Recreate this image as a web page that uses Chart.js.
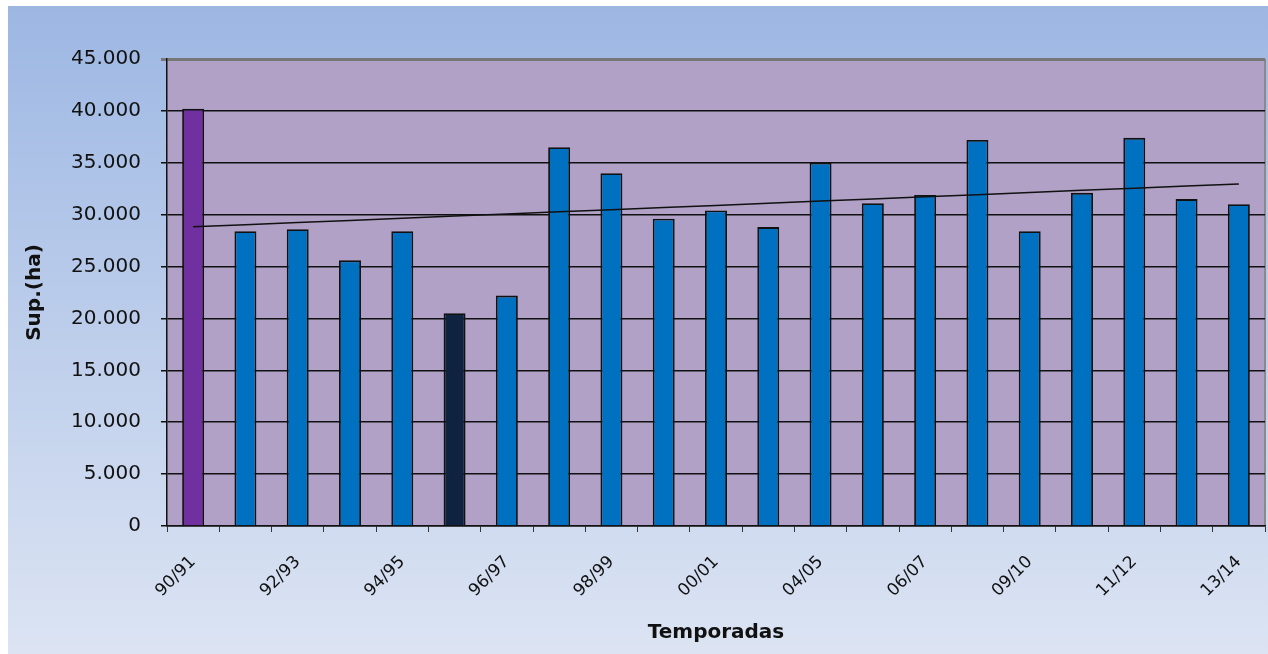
<!DOCTYPE html>
<html>
<head>
<meta charset="utf-8">
<script src="https://cdn.jsdelivr.net/npm/chart.js@4.4.0/dist/chart.umd.min.js"></script>
<style>
  html, body { margin: 0; padding: 0; background: #fff; }
  #wrap { width: 1268px; height: 654px; }
</style>
</head>
<body>
<div id="wrap"><canvas id="supChart" width="1268" height="654"></canvas></div>
<script>
// temporadas (las dos sin etiqueta visible son estimadas)
const seasons = ['90/91', '91/92', '92/93', '93/94', '94/95', '95/96', '96/97', '97/98', '98/99', '99/00',
  '00/01', '03/04', '04/05', '05/06', '06/07', '08/09', '09/10', '10/11', '11/12', '12/13', '13/14'];

// superficie (ha)
const surface = [40200, 28400, 28600, 25600, 28400, 20500, 22200, 36500, 34000, 29600,
  30400, 28800, 35000, 31100, 31900, 37200, 28400, 32100, 37400, 31500, 31000];

const yTicks = [0, 5000, 10000, 15000, 20000, 25000, 30000, 35000, 40000, 45000];

// tendencia lineal (minimos cuadrados) sobre las barras
function linearTrend(vals) {
  const n = vals.length;
  let sx = 0, sy = 0, sxy = 0, sxx = 0;
  vals.forEach((v, i) => { sx += i; sy += v; sxy += i * v; sxx += i * i; });
  const b = (n * sxy - sx * sy) / (n * sxx - sx * sx);
  const a = (sy - b * sx) / n;
  return vals.map((v, i) => a + b * i);
}

const barColors = surface.map((v, i) => i === 0 ? '#7030A0' : (i === 5 ? '#0F2240' : '#0070C0'));

const fmt = v => String(v).replace(/\B(?=(\d{3})+(?!\d))/g, '.');

const bgPlugin = {
  id: 'bgPlugin',
  beforeDraw(chart) {
    const c = chart.ctx;
    const a = chart.chartArea;
    c.save();
    c.fillStyle = '#ffffff';
    c.fillRect(0, 0, chart.width, chart.height);
    const g = c.createLinearGradient(0, 6, 0, chart.height);
    g.addColorStop(0, '#9DB7E3');
    g.addColorStop(1, '#DCE4F3');
    c.fillStyle = g;
    c.fillRect(8, 6, chart.width - 8, chart.height - 6);
    c.fillStyle = '#B1A1C7';
    c.fillRect(a.left, a.top, a.right - a.left, a.bottom - a.top);
    c.strokeStyle = '#8a8a8a';
    c.lineWidth = 2;
    c.beginPath();
    c.moveTo(a.right, a.top);
    c.lineTo(a.right, a.bottom);
    c.stroke();
    c.restore();
  }
};

const ctx = document.getElementById('supChart');
const supChart = new Chart(ctx, {
  data: {
    labels: seasons,
    datasets: [{
      type: 'line',
      data: linearTrend(surface),
      borderColor: '#111',
      borderWidth: 1.5,
      pointRadius: 0,
      fill: false,
      order: 0
    }, {
      type: 'bar',
      data: surface,
      backgroundColor: barColors,
      borderColor: '#111',
      borderWidth: 1.8,
      barPercentage: 0.42,
      categoryPercentage: 1,
      order: 1
    }]
  },
  options: {
    responsive: false,
    animation: false,
    layout: { padding: { top: 59, right: 3, left: 0, bottom: 0 } },
    scales: {
      x: {
        afterFit: s => { s.height = 128; s.paddingLeft = 0; s.paddingRight = 0; },
        grid: {
          drawOnChartArea: false,
          drawTicks: true,
          tickLength: 6,
          color: '#333'
        },
        border: { display: true, color: '#111', width: 1.5 },
        ticks: {
          autoSkip: false,
          maxRotation: 45,
          minRotation: 45,
          padding: 20,
          color: '#111',
          font: { family: 'DejaVu Sans', size: 17 },
          callback: function (val, i) { return i % 2 === 0 ? this.getLabelForValue(val) : ''; }
        },
        title: {
          display: true,
          text: 'Temporadas',
          color: '#111',
          font: { family: 'DejaVu Sans', size: 20, weight: 'bold' },
          padding: { top: 9, bottom: 9 }
        }
      },
      y: {
        min: 0,
        max: 45000,
        afterFit: s => { s.width = 167; },
        afterBuildTicks: s => { s.ticks = yTicks.map(v => ({ value: v })); },
        grid: {
          color: c => c.tick && c.tick.value === 45000 ? '#777' : '#111',
          lineWidth: c => c.tick && c.tick.value === 45000 ? 3 : 1.5,
          tickLength: 6
        },
        border: { display: true, color: '#111', width: 1.5 },
        ticks: {
          padding: 20,
          color: '#111',
          font: { family: 'DejaVu Sans', size: 20 },
          callback: v => fmt(v)
        },
        title: {
          display: true,
          text: 'Sup.(ha)',
          color: '#111',
          font: { family: 'DejaVu Sans', size: 20, weight: 'bold' },
          padding: { top: 23, bottom: 23 }
        }
      }
    },
    plugins: {
      legend: { display: false },
      tooltip: { enabled: false }
    }
  },
  plugins: [bgPlugin]
});
</script>
</body>
</html>
